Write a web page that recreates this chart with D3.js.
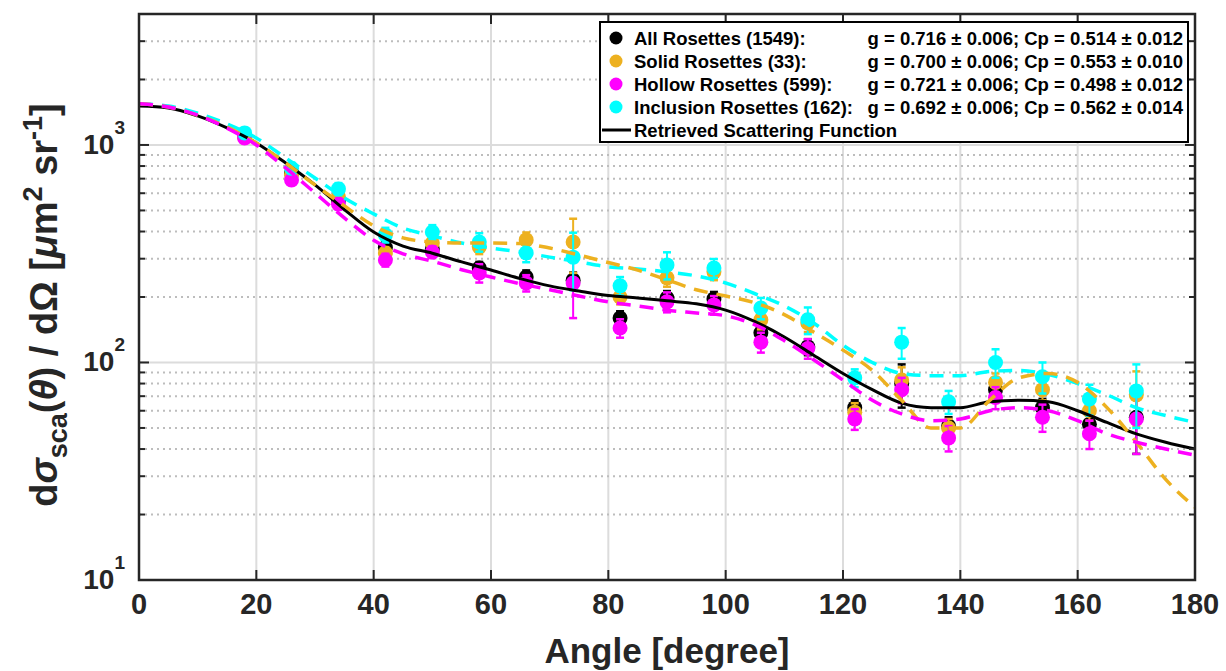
<!DOCTYPE html>
<html>
<head>
<meta charset="utf-8">
<script src="https://cdn.jsdelivr.net/npm/d3@7"></script>
<style>
  html, body { margin: 0; padding: 0; background: #fff; overflow: hidden; }
  svg { display: block; font-family: "Liberation Sans", Arial, sans-serif; font-weight: bold; }
</style>
</head>
<body>
<div id="chart"></div>
<script>
// measured points (angle in degrees)
const angles = [18, 26, 34, 42, 50, 58, 66, 74, 82, 90, 98, 106, 114, 122, 130, 138, 146, 154, 162, 170];

const allVals = [1100, 743, 559, 338, 332, 272, 247, 239, 160, 198, 196, 137, 118, 62, 80, 51, 75, 62, 52, 56];
const allErr  = [60, 40, 30, 20, 18, 18, 18, 20, 12, 15, 15, 12, 10, 5, 18, 5, 8, 6, 5, 18];

const solidVals = [1090, 730, 576, 319, 354, 340, 366, 358, 200, 245, 261, 157, 152, 59, 83, 50, 81, 75, 60, 71];
const solidErr  = [60, 40, 35, 20, 25, 25, 30, 100, 15, 22, 22, 15, 14, 6, 12, 5, 8, 8, 6, 20];

const hollowVals = [1077, 690, 535, 296, 322, 258, 232, 232, 144, 190, 184, 124, 116, 55, 75, 45, 69, 56, 47, 55];
const hollowErr  = [55, 35, 30, 20, 20, 25, 20, 72, 14, 20, 18, 13, 12, 6, 10, 6, 8, 8, 7, 17];

const inclVals = [1136, 782, 628, 386, 398, 358, 319, 305, 225, 281, 272, 178, 157, 85, 124, 66, 100, 86, 68, 74];
const inclErr  = [60, 45, 40, 30, 30, 35, 30, 90, 22, 40, 27, 20, 22, 8, 20, 8, 15, 14, 11, 24];

// fitted curves, read every 5 degrees
const curveAngles = [0, 5, 10, 15, 20, 25, 30, 35, 40, 45, 50, 55, 60, 65, 70, 75, 80, 85, 90,
  95, 100, 105, 110, 115, 120, 125, 130, 135, 140, 145, 150, 155, 160, 165, 170, 175, 180];
const retrieved = [1510, 1480, 1360, 1197, 1021, 826, 655, 505, 398, 343, 318, 290, 266, 243, 225, 213, 203, 198, 192,
  186, 174, 154, 131, 108, 89, 75, 65, 62, 62, 66, 67, 66, 60, 53, 47, 43, 40];
const solidFit = [1545, 1495, 1370, 1210, 1021, 826, 655, 525, 425, 374, 358, 354, 354, 352, 336, 312, 288, 266, 240,
  216, 202, 188, 166, 138, 114, 92, 67, 50, 50, 67, 85, 89, 81, 62, 43, 29, 21.6];
const hollowFit = [1545, 1495, 1370, 1195, 1000, 784, 602, 462, 365, 316, 292, 267, 247, 230, 216, 202, 190, 182, 174,
  169, 164, 149, 126, 103, 83, 67, 58, 54, 55, 60, 62, 60, 54, 47, 43, 40, 37.5];
const inclFit = [1545, 1510, 1400, 1249, 1077, 871, 705, 571, 482, 415, 382, 354, 336, 322, 305, 290, 275, 269, 261,
  250, 232, 207, 182, 152, 120, 100, 89, 87, 87, 91, 92, 88, 80, 71, 62, 57, 53];

const xTicks = [0, 20, 40, 60, 80, 100, 120, 140, 160, 180];
const yMajor = [10, 100, 1000];
const yExp = ['1', '2', '3'];
const yMinor = [20, 30, 40, 50, 60, 70, 80, 90, 200, 300, 400, 500, 600, 700, 800, 900, 2000, 3000];

const legendNames = ['All Rosettes (1549):', 'Solid Rosettes (33):', 'Hollow Rosettes (599):', 'Inclusion Rosettes (162):'];
const legendStats = ['g = 0.716 \u00b1 0.006; Cp = 0.514 \u00b1 0.012', 'g = 0.700 \u00b1 0.006; Cp = 0.553 \u00b1 0.010',
  'g = 0.721 \u00b1 0.006; Cp = 0.498 \u00b1 0.012', 'g = 0.692 \u00b1 0.006; Cp = 0.562 \u00b1 0.014'];

const colors = ['#000000', '#EDB120', '#FF00FF', '#00FFFF'];

const W = 1226, H = 671;
const plot = { left: 139, right: 1195, top: 14, bottom: 580 };

const svg = d3.select('#chart').append('svg').attr('width', W).attr('height', H);

const x = d3.scaleLinear().domain([0, 180]).range([plot.left, plot.right]);
const y = d3.scaleLog().domain([10, 4000]).range([plot.bottom, plot.top]);

// grid
const grid = svg.append('g');
grid.selectAll('.vg').data(xTicks.slice(1, -1)).enter().append('line')
  .attr('x1', d => x(d)).attr('x2', d => x(d)).attr('y1', plot.top).attr('y2', plot.bottom)
  .attr('stroke', '#dcdcdc').attr('stroke-width', 2);
grid.selectAll('.hg').data(yMajor).enter().append('line')
  .attr('x1', plot.left).attr('x2', plot.right).attr('y1', d => y(d)).attr('y2', d => y(d))
  .attr('stroke', '#dcdcdc').attr('stroke-width', 2);
grid.selectAll('.mg').data(yMinor).enter().append('line')
  .attr('x1', plot.left).attr('x2', plot.right).attr('y1', d => y(d)).attr('y2', d => y(d))
  .attr('stroke', '#bdbdbd').attr('stroke-width', 2).attr('stroke-dasharray', '2,4');

// points with error bars
const series = [
  { vals: allVals, err: allErr },
  { vals: solidVals, err: solidErr },
  { vals: hollowVals, err: hollowErr },
  { vals: inclVals, err: inclErr }
];
series.forEach((s, i) => {
  const g = svg.append('g').attr('stroke', colors[i]).attr('fill', colors[i]);
  const pts = angles.map((a, k) => ({ a: a, v: s.vals[k], e: s.err[k] }));
  g.selectAll('.eb').data(pts).enter().append('line')
    .attr('x1', d => x(d.a)).attr('x2', d => x(d.a))
    .attr('y1', d => y(d.v + d.e)).attr('y2', d => y(d.v - d.e))
    .attr('stroke-width', 2);
  [1, -1].forEach((sign, j) => {
    g.selectAll('.cap' + j).data(pts).enter().append('line')
      .attr('x1', d => x(d.a) - 4).attr('x2', d => x(d.a) + 4)
      .attr('y1', d => y(d.v + sign * d.e))
      .attr('y2', d => y(d.v + sign * d.e))
      .attr('stroke-width', 2.5);
  });
  g.selectAll('circle').data(pts).enter().append('circle')
    .attr('cx', d => x(d.a)).attr('cy', d => y(d.v)).attr('r', 7.5).attr('stroke', 'none');
});

// fitted curves
const line = d3.line().x(d => x(d[0])).y(d => y(d[1])).curve(d3.curveMonotoneX);
const curves = [
  { vals: retrieved, color: colors[0], dash: null, w: 3 },
  { vals: inclFit, color: colors[3], dash: '14,9', w: 3.5 },
  { vals: solidFit, color: colors[1], dash: '14,9', w: 3.5 },
  { vals: hollowFit, color: colors[2], dash: '14,9', w: 3.5 }
];
curves.forEach(c => {
  svg.append('path')
    .datum(curveAngles.map((a, k) => [a, c.vals[k]]))
    .attr('d', line)
    .attr('fill', 'none')
    .attr('stroke', c.color)
    .attr('stroke-width', c.w)
    .attr('stroke-dasharray', c.dash);
});

// axes box + inward ticks
const axisColor = '#262626';
const ax = svg.append('g').attr('stroke', axisColor);
ax.append('rect')
  .attr('x', plot.left).attr('y', plot.top)
  .attr('width', plot.right - plot.left).attr('height', plot.bottom - plot.top)
  .attr('fill', 'none').attr('stroke-width', 2.5);
xTicks.slice(1, -1).forEach(t => {
  ax.append('line').attr('x1', x(t)).attr('x2', x(t)).attr('y1', plot.bottom).attr('y2', plot.bottom - 10).attr('stroke-width', 2);
  ax.append('line').attr('x1', x(t)).attr('x2', x(t)).attr('y1', plot.top).attr('y2', plot.top + 10).attr('stroke-width', 2);
});
yMajor.concat(yMinor).forEach(t => {
  const len = yMajor.includes(t) ? 10 : 6;
  ax.append('line').attr('x1', plot.left).attr('x2', plot.left + len).attr('y1', y(t)).attr('y2', y(t)).attr('stroke-width', 2);
  ax.append('line').attr('x1', plot.right).attr('x2', plot.right - len).attr('y1', y(t)).attr('y2', y(t)).attr('stroke-width', 2);
});

// tick labels
svg.append('g').selectAll('text').data(xTicks).enter().append('text')
  .attr('x', d => x(d)).attr('y', 614)
  .attr('text-anchor', 'middle').attr('font-size', 29).attr('fill', '#262626')
  .text(d => d);

yMajor.forEach((t, i) => {
  const tx = svg.append('text')
    .attr('x', 125).attr('y', y(t) + 9)
    .attr('text-anchor', 'end').attr('fill', '#262626');
  tx.append('tspan').attr('font-size', 28).text('10');
  tx.append('tspan').attr('font-size', 19).attr('dy', -20).text(yExp[i]);
});

// axis labels
svg.append('text')
  .attr('x', (plot.left + plot.right) / 2).attr('y', 663)
  .attr('text-anchor', 'middle').attr('font-size', 35).attr('fill', '#262626')
  .text('Angle [degree]');

const yl = svg.append('text')
  .attr('transform', 'translate(57, 305) rotate(-90)')
  .attr('text-anchor', 'middle').attr('font-size', 38).attr('fill', '#262626');
yl.append('tspan').text('d');
yl.append('tspan').attr('font-style', 'italic').text('\u03c3');
yl.append('tspan').attr('font-size', 27).attr('dy', 10).text('sca');
yl.append('tspan').attr('dy', -10).text('(');
yl.append('tspan').attr('font-style', 'italic').text('\u03b8');
yl.append('tspan').text(') / d\u03a9 [');
yl.append('tspan').attr('font-style', 'italic').text('\u03bc');
yl.append('tspan').text('m');
yl.append('tspan').attr('font-size', 27).attr('dy', -15).text('2');
yl.append('tspan').attr('dy', 15).text(' sr');
yl.append('tspan').attr('font-size', 27).attr('dy', -15).text('-1');
yl.append('tspan').attr('dy', 15).text(']');

// legend
const lg = svg.append('g');
lg.append('rect').attr('x', 600).attr('y', 22).attr('width', 588).attr('height', 120)
  .attr('fill', '#fff').attr('stroke', '#000').attr('stroke-width', 2);
legendNames.forEach((name, i) => {
  const ry = 38 + i * 23;
  lg.append('circle').attr('cx', 616).attr('cy', ry).attr('r', 6.5).attr('fill', colors[i]);
  lg.append('text').attr('x', 634).attr('y', ry + 7).attr('font-size', 18.5).attr('fill', '#000').text(name);
  lg.append('text').attr('x', 1183).attr('y', ry + 7).attr('text-anchor', 'end')
    .attr('font-size', 18.5).attr('fill', '#000').text(legendStats[i]);
});
lg.append('line').attr('x1', 602).attr('x2', 631).attr('y1', 130).attr('y2', 130)
  .attr('stroke', '#000').attr('stroke-width', 3);
lg.append('text').attr('x', 634).attr('y', 137).attr('font-size', 18.5).attr('fill', '#000')
  .text('Retrieved Scattering Function');
</script>
</body>
</html>
